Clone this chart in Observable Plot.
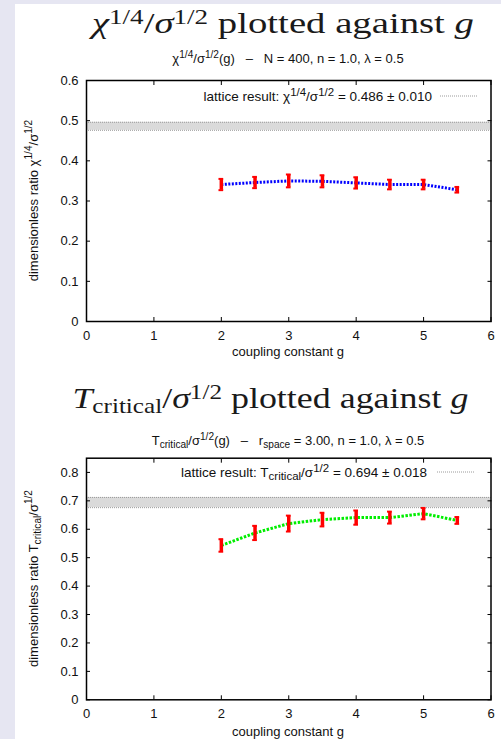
<!DOCTYPE html>
<html>
<head>
<meta charset="utf-8">
<script src="https://cdn.jsdelivr.net/npm/d3@7"></script>
<script src="https://cdn.jsdelivr.net/npm/@observablehq/plot@0.6"></script>
<style>
  html, body { margin: 0; padding: 0; }
  body { background: #e6e6f2; width: 501px; height: 739px; position: relative; overflow: hidden; font-family: "Liberation Sans", Arial, sans-serif; }
  #sheet { position: absolute; left: 15px; top: 4px; width: 486px; height: 735px; background: #fff; }
  .abs { position: absolute; white-space: nowrap; }
  .title { font-family: "Liberation Serif", "DejaVu Serif", serif; font-size: 30px; line-height: 30px; color: #1a1a1a; transform-origin: center center; }
  .title sup { font-size: 0.7em; vertical-align: 0.45em; line-height: 0; }
  .title sub { font-size: 0.7em; vertical-align: -0.25em; line-height: 0; }
  .sub { font-size: 13px; line-height: 13px; color: #111; text-align: center; }
  .sub sup, .ylab sup { font-size: 0.78em; vertical-align: 0.5em; line-height: 0; }
  .sub sub, .ylab sub { font-size: 0.78em; vertical-align: -0.3em; line-height: 0; }
  .leg sup { font-size: 0.85em; vertical-align: 0.45em; line-height: 0; }
  .leg sub { font-size: 0.85em; vertical-align: -0.3em; line-height: 0; }
  .leg { font-size: 13.5px; line-height: 13.5px; color: #111; text-align: right; }
  .xlab { font-size: 13px; line-height: 13px; color: #111; text-align: center; }
  .ylab { font-size: 13px; line-height: 13px; color: #111; text-align: center; transform: rotate(-90deg); transform-origin: center center; }
</style>
</head>
<body>
<div id="sheet"></div>
<script>
// ---- data ----
const couplingG = [2, 2.5, 3, 3.5, 4, 4.5, 5, 5.5];
const chiRatio = [0.341, 0.346, 0.350, 0.349, 0.345, 0.341, 0.341, 0.328];
const chiError = [0.014, 0.014, 0.016, 0.015, 0.014, 0.012, 0.012, 0.007];
const tcRatio = [0.543, 0.587, 0.620, 0.634, 0.641, 0.641, 0.655, 0.631];
const tcError = [0.022, 0.025, 0.028, 0.024, 0.025, 0.021, 0.020, 0.012];
const latticeChi = [0.486, 0.010];
const latticeTc = [0.694, 0.018];
const xTicks = [0, 1, 2, 3, 4, 5, 6];
const yTicksChi = [0, 0.1, 0.2, 0.3, 0.4, 0.5, 0.6];
const yTicksTc = [0, 0.1, 0.2, 0.3, 0.4, 0.5, 0.6, 0.7, 0.8];
const xDomain = [0, 6];
const yDomainChi = [0, 0.6];
const yDomainTc = [0, 0.85];

function panel({values, errors, lattice, yDomain, yTicks, lineColor, dash, top, height, marginTop, marginBottom}) {
  const data = couplingG.map((g, i) => ({g, v: values[i], e: errors[i]}));
  const band = [{lo: lattice[0] - lattice[1], hi: lattice[0] + lattice[1]}];
  const fmt = d => d === 0 ? "0" : d3.format(".1f")(d);
  const svg = Plot.plot({
    width: 501,
    height,
    marginLeft: 86,
    marginRight: 10.5,
    marginTop,
    marginBottom,
    style: {fontFamily: "Liberation Sans, Arial, sans-serif", fontSize: "13px", color: "#111", background: "transparent"},
    x: {domain: xDomain, ticks: xTicks},
    y: {domain: yDomain, ticks: yTicks},
    marks: [
      Plot.rect(band, {x1: xDomain[0], x2: xDomain[1], y1: "lo", y2: "hi", fill: "#dadada"}),
      Plot.ruleY(band, {y: "lo", stroke: "#9a9a9a", strokeWidth: 1, strokeDasharray: "1,1"}),
      Plot.ruleY(band, {y: "hi", stroke: "#9a9a9a", strokeWidth: 1, strokeDasharray: "1,1"}),
      Plot.line(data, {x: "g", y: "v", stroke: lineColor, strokeWidth: 3, strokeDasharray: dash, strokeLinecap: "butt", strokeLinejoin: "miter"}),
      Plot.ruleX(data, {x: "g", y1: d => d.v - d.e, y2: d => d.v + d.e, stroke: "#ff0000", strokeWidth: 3.5}),
      Plot.ruleY(data, {y: d => d.v + d.e, x1: d => d.g - 0.035, x2: d => d.g + 0.035, stroke: "#ff0000", strokeWidth: 2}),
      Plot.ruleY(data, {y: d => d.v - d.e, x1: d => d.g - 0.035, x2: d => d.g + 0.035, stroke: "#ff0000", strokeWidth: 2}),
      // tick labels
      Plot.axisX(xTicks, {anchor: "bottom", tickSize: 0, tickPadding: 9, tickFormat: d => String(d), label: null}),
      Plot.axisY(yTicks, {anchor: "left", tickSize: 0, tickPadding: 8, tickFormat: fmt, label: null}),
      // inward tick marks on all four sides
      Plot.axisX(xTicks, {anchor: "bottom", tickSize: 4, dy: -4, tickFormat: () => "", label: null, stroke: "#000"}),
      Plot.axisX(xTicks, {anchor: "top", tickSize: 4, dy: 4, tickFormat: () => "", label: null, stroke: "#000"}),
      Plot.axisY(yTicks, {anchor: "left", tickSize: 4, dx: 4, tickFormat: () => "", label: null, stroke: "#000"}),
      Plot.axisY(yTicks, {anchor: "right", tickSize: 4, dx: -4, tickFormat: () => "", label: null, stroke: "#000"}),
      Plot.frame({stroke: "#000", strokeWidth: 1.5})
    ]
  });
  svg.style.position = "absolute";
  svg.style.left = "0px";
  svg.style.top = top + "px";
  svg.style.background = "transparent";
  document.body.appendChild(svg);
}

panel({values: chiRatio, errors: chiError, lattice: latticeChi, yDomain: yDomainChi, yTicks: yTicksChi,
  lineColor: "#0000ff", dash: "2,1.5", top: 0, height: 370, marginTop: 80, marginBottom: 49});
panel({values: tcRatio, errors: tcError, lattice: latticeTc, yDomain: yDomainTc, yTicks: yTicksTc,
  lineColor: "#00ee00", dash: "2.5,1.5", top: 370, height: 369, marginTop: 87.7, marginBottom: 39.7});

// ---- text ----
function add(cls, html, style) {
  const d = document.createElement("div");
  d.className = "abs " + cls;
  d.innerHTML = html;
  Object.assign(d.style, style);
  document.body.appendChild(d);
  return d;
}
function title(html, x1, x2, top) {
  const d = add("title", html, {left: "0px", top: top + "px"});
  const w = d.getBoundingClientRect().width;
  const s = (x2 - x1) / w;
  d.style.left = ((x1 + x2) / 2 - w / 2) + "px";
  d.style.transform = "scaleX(" + s + ")";
}
function sample(y, x1, x2) {
  const ns = "http://www.w3.org/2000/svg";
  const s = document.createElementNS(ns, "svg");
  s.setAttribute("width", x2 - x1); s.setAttribute("height", 4);
  s.style.position = "absolute"; s.style.left = x1 + "px"; s.style.top = (y - 2) + "px";
  const l = document.createElementNS(ns, "line");
  l.setAttribute("x1", 0); l.setAttribute("x2", x2 - x1); l.setAttribute("y1", 2); l.setAttribute("y2", 2);
  l.setAttribute("stroke", "#9a9a9a"); l.setAttribute("stroke-dasharray", "1,1");
  s.appendChild(l); document.body.appendChild(s);
}

title('<i>χ</i><sup>1/4</sup>/<i>σ</i><sup>1/2</sup> plotted against <i>g</i>', 92, 474, 8);
add("sub", 'χ<sup>1/4</sup>/σ<sup>1/2</sup>(g) &nbsp; – &nbsp; N = 400, n = 1.0, λ = 0.5', {left: "38px", width: "500px", top: "51.5px"});
add("leg", 'lattice result: χ<sup>1/4</sup>/σ<sup>1/2</sup> = 0.486 ± 0.010', {left: "132px", width: "300px", top: "89.5px"});
sample(95.5, 440, 477);
add("xlab", 'coupling constant g', {left: "138px", width: "300px", top: "345px"});
add("ylab", 'dimensionless ratio χ<sup>1/4</sup>/σ<sup>1/2</sup>', {left: "-77px", width: "220px", top: "193.5px"});

title('<i>T</i><sub>critical</sub>/<i>σ</i><sup>1/2</sup> plotted against <i>g</i>', 72, 468, 383);
add("sub", 'T<sub>critical</sub>/σ<sup>1/2</sup>(g) &nbsp; – &nbsp; r<sub>space</sub> = 3.00, n = 1.0, λ = 0.5', {left: "38px", width: "500px", top: "434px"});
add("leg", 'lattice result: T<sub>critical</sub>/σ<sup>1/2</sup> = 0.694 ± 0.018', {left: "127px", width: "300px", top: "465.5px"});
sample(472, 437, 475);
add("xlab", 'coupling constant g', {left: "138px", width: "300px", top: "725px"});
add("ylab", 'dimensionless ratio T<sub>critical</sub>/σ<sup>1/2</sup>', {left: "-77px", width: "220px", top: "571.5px"});
</script>
</body>
</html>
